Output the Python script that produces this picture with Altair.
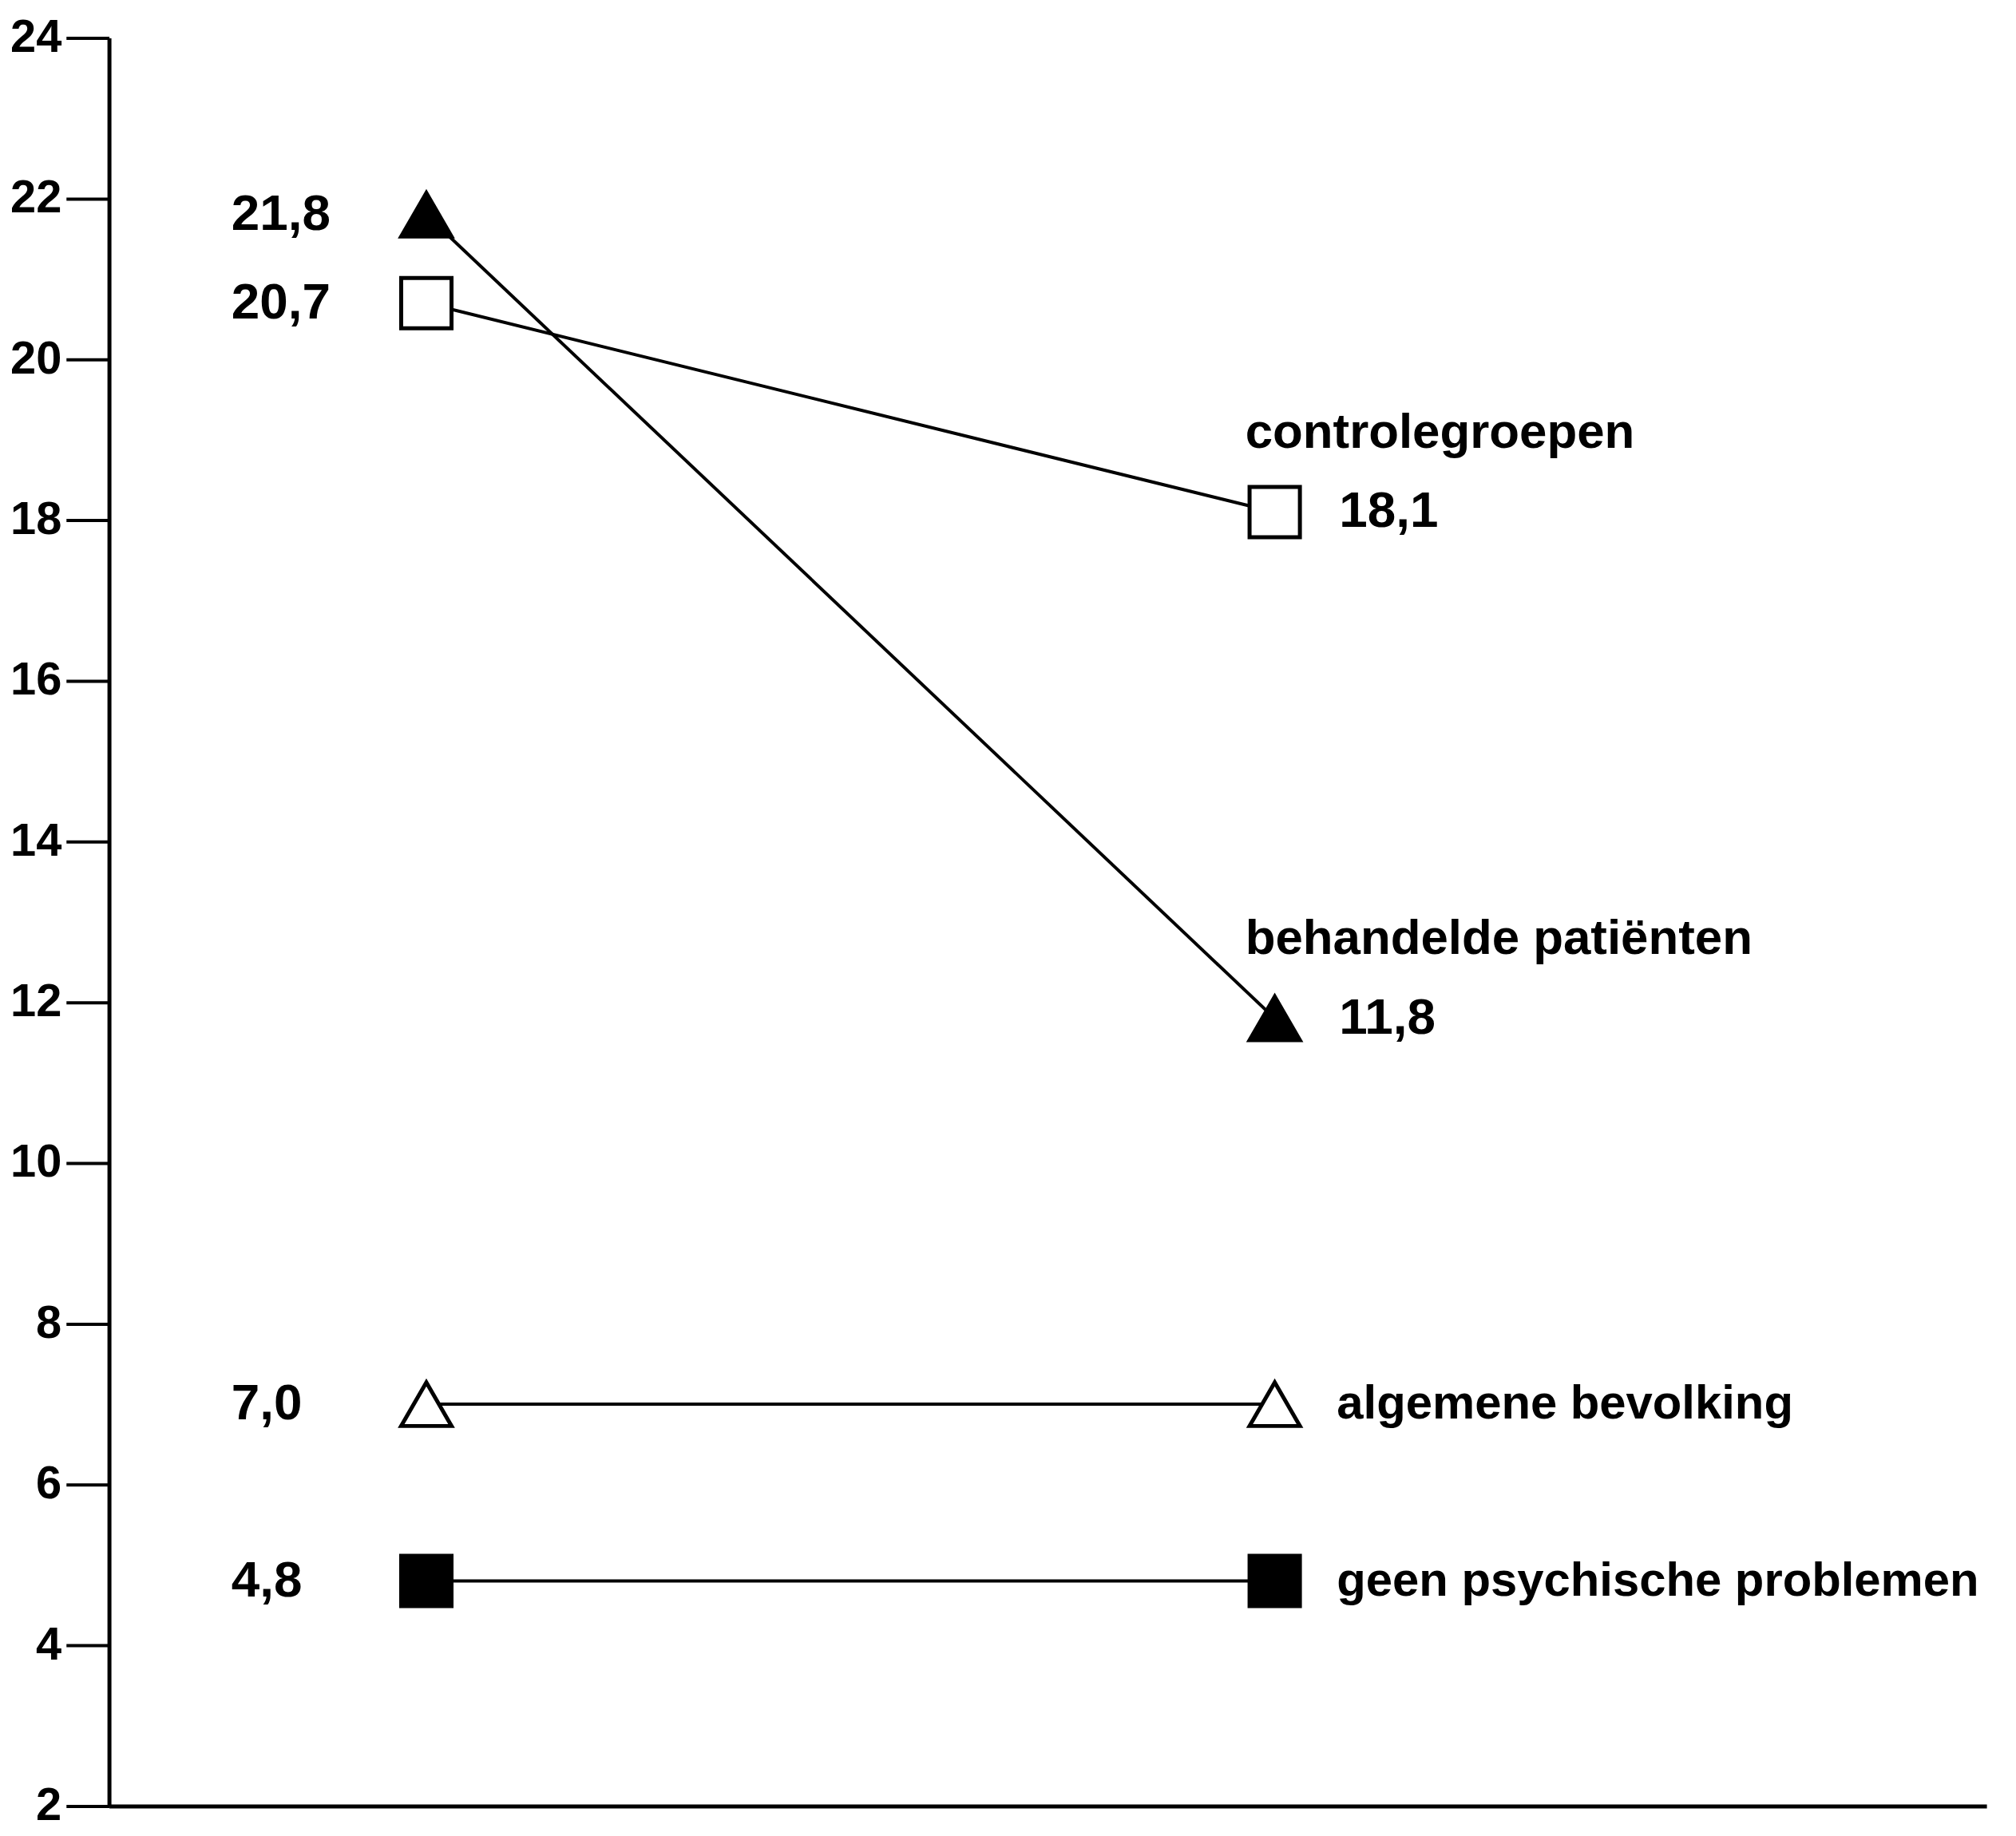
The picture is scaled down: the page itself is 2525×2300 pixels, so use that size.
import altair as alt
import pandas as pd

# ---- data ----
series = ["behandelde patiënten", "controlegroepen", "algemene bevolking", "geen psychische problemen"]
time_points = [1, 2]
start_values = [21.8, 20.7, 7.0, 4.8]
end_values = [11.8, 18.1, 7.0, 4.8]
start_labels = ["21,8", "20,7", "7,0", "4,8"]
end_labels = ["11,8", "18,1", "", ""]
y_ticks = [2, 4, 6, 8, 10, 12, 14, 16, 18, 20, 22, 24]

rows = []
for s, v1, v2, l1, l2 in zip(series, start_values, end_values, start_labels, end_labels):
    rows.append({"series": s, "t": time_points[0], "value": v1, "label": l1})
    rows.append({"series": s, "t": time_points[1], "value": v2, "label": l2})
df = pd.DataFrame(rows)

# ---- styles ----
FONT = "Liberation Sans"
shape_range = ["triangle-up", "square", "triangle-up", "square"]
fill_range = ["black", "white", "white", "black"]

x_enc = alt.X("t:Q", scale=alt.Scale(domain=[0.626, 2.839], nice=False, zero=False),
              axis=alt.Axis(labels=False, ticks=False, title=None, grid=False,
                            domainColor="black", domainWidth=5))
y_enc = alt.Y("value:Q", scale=alt.Scale(domain=[2, 24], nice=False, zero=False),
              axis=alt.Axis(values=y_ticks, format="d", title=None, grid=False,
                            domainColor="black", domainWidth=5,
                            tickColor="black", tickWidth=4, tickSize=54,
                            labelPadding=6, labelFont=FONT, labelFontSize=58,
                            labelFontWeight="bold", labelColor="black",
                            labelFlush=False, labelOverlap=False, labelBound=False))

base = alt.Chart(df)

lines = base.mark_line(color="black", strokeWidth=4).encode(
    x=x_enc, y=y_enc, detail="series:N")

points = base.mark_point(filled=False, size=4000, stroke="black", strokeWidth=5, opacity=1).encode(
    x="t:Q", y="value:Q",
    shape=alt.Shape("series:N", scale=alt.Scale(domain=series, range=shape_range), legend=None),
    fill=alt.Fill("series:N", scale=alt.Scale(domain=series, range=fill_range), legend=None),
)

text_style = dict(font=FONT, fontWeight="bold", color="black", baseline="middle", align="left")

left_vals = base.transform_filter(alt.datum.t == time_points[0]).mark_text(
    fontSize=64, dx=-245, **text_style).encode(x="t:Q", y="value:Q", text="label:N")

right_vals = base.transform_filter(
    (alt.datum.t == time_points[1]) & (alt.datum.label != "")).mark_text(
    fontSize=64, dx=81, **text_style).encode(x="t:Q", y="value:Q", text="label:N")

end_df = df[df["t"] == time_points[1]]
above_names = alt.Chart(end_df[end_df["series"].isin(series[:2])]).mark_text(
    fontSize=62, dx=-37, dy=-100, **text_style).encode(x="t:Q", y="value:Q", text="series:N")
right_names = alt.Chart(end_df[end_df["series"].isin(series[2:])]).mark_text(
    fontSize=60, dx=78, **text_style).encode(x="t:Q", y="value:Q", text="series:N")

chart = alt.layer(lines, points, left_vals, right_vals, above_names, right_names).properties(
    width=2359, height=2222,
    autosize=alt.AutoSizeParams(type="none"),
    padding={"left": 129, "top": 36, "right": 29, "bottom": 34},
    background="white",
).configure_view(strokeWidth=0)

chart.save("out.html", embed_options={"renderer": "svg", "actions": False})
